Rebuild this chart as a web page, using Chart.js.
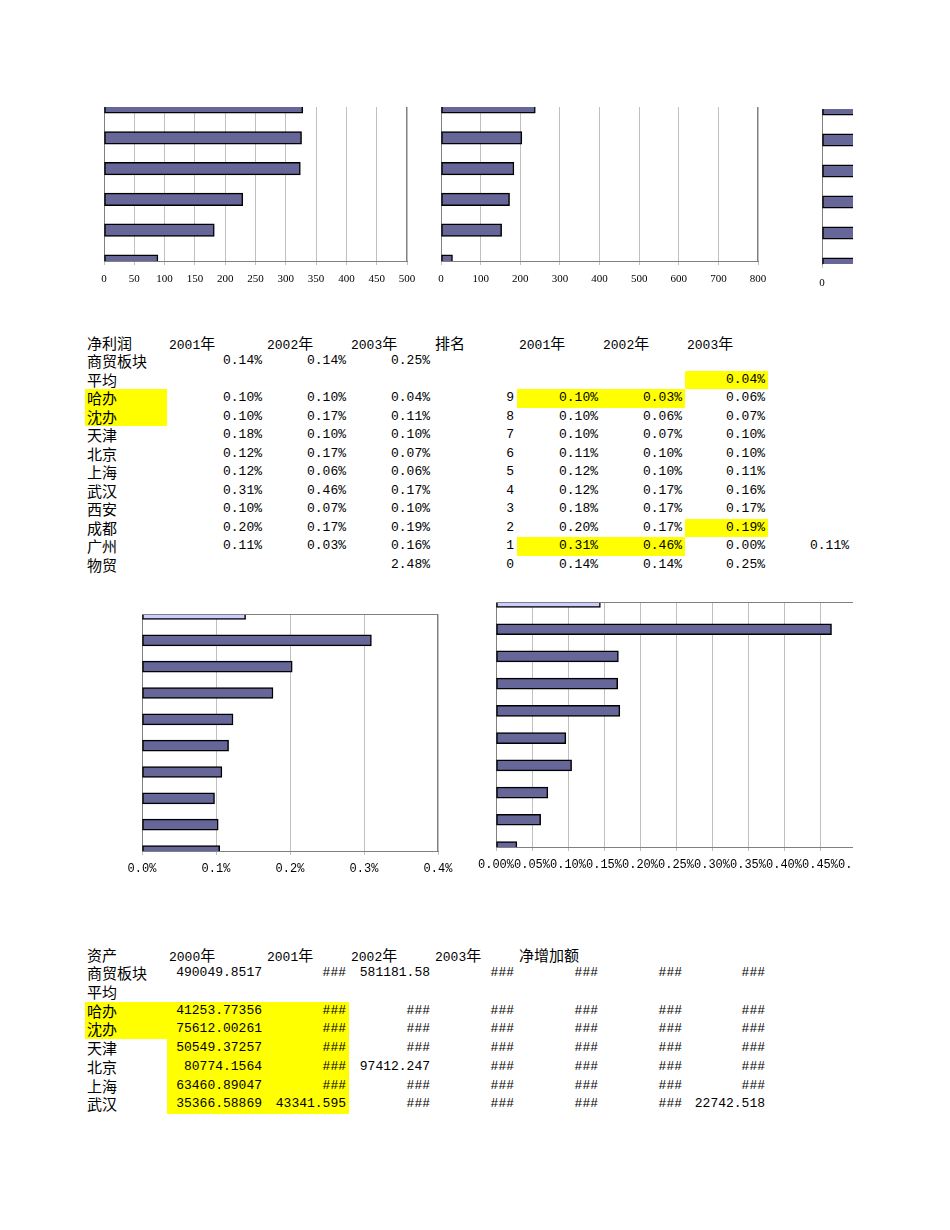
<!DOCTYPE html>
<html>
<head>
<meta charset="utf-8">
<script src="https://cdn.jsdelivr.net/npm/chart.js@4.4.1/dist/chart.umd.min.js"></script>
<style>
  body { margin: 0; background: #fff; }
  #page { position: relative; width: 950px; height: 1230px; overflow: hidden; background: #fff; }
  #print { position: absolute; left: 0; top: 0; width: 853px; height: 1230px; overflow: hidden; }
  .box { position: absolute; }
  .cell { position: absolute; white-space: nowrap; box-sizing: border-box; padding: 0 3px;
          font-family: "Liberation Mono", "Noto Sans CJK SC", monospace; font-size: 13px; color: #000; }
  .zh { font-family: "Noto Sans CJK SC", sans-serif; font-size: 15px; }
  .hl { position: absolute; background: #ffff00; }
</style>
</head>
<body>
<div id="page"><div id="print"></div></div>
<script>
// ---- chart data (top to bottom) ----
const topLabels = ['1', '2', '3', '4', '5', '6'];
const topLeftValues = [328, 326, 324, 229, 182, 89];
const topMidValues = [238, 204, 184, 173, 153, 29];
const topRightValues = [300, 280, 260, 240, 220, 120];

const rankLabels = ['0', '1', '2', '3', '4', '5', '6', '7', '8', '9'];
const rank2001 = [0.14, 0.31, 0.203, 0.177, 0.123, 0.117, 0.108, 0.098, 0.103, 0.105];
const rank2002 = [0.145, 0.466, 0.17, 0.169, 0.172, 0.097, 0.105, 0.072, 0.062, 0.029];

// ---- table data ----
const profitHead = ['净利润', '2001年', '2002年', '2003年', '排名', '2001年', '2002年', '2003年'];
const profitCities = ['商贸板块', '平均', '哈办', '沈办', '天津', '北京', '上海', '武汉', '西安', '成都', '广州', '物贸'];
const profit2001 = ['0.14%', '', '0.10%', '0.10%', '0.18%', '0.12%', '0.12%', '0.31%', '0.10%', '0.20%', '0.11%', ''];
const profit2002 = ['0.14%', '', '0.10%', '0.17%', '0.10%', '0.17%', '0.06%', '0.46%', '0.07%', '0.17%', '0.03%', ''];
const profit2003 = ['0.25%', '', '0.04%', '0.11%', '0.10%', '0.07%', '0.06%', '0.17%', '0.10%', '0.19%', '0.16%', '2.48%'];
const rankNo = ['', '', '9', '8', '7', '6', '5', '4', '3', '2', '1', '0'];
const rankCol2001 = ['', '', '0.10%', '0.10%', '0.10%', '0.11%', '0.12%', '0.12%', '0.18%', '0.20%', '0.31%', '0.14%'];
const rankCol2002 = ['', '', '0.03%', '0.06%', '0.07%', '0.10%', '0.10%', '0.17%', '0.17%', '0.17%', '0.46%', '0.14%'];
const rankCol2003 = ['', '0.04%', '0.06%', '0.07%', '0.10%', '0.10%', '0.11%', '0.16%', '0.17%', '0.19%', '0.00%', '0.25%'];
const rankExtra = ['', '', '', '', '', '', '', '', '', '', '0.11%', ''];

const assetHead = ['资产', '2000年', '2001年', '2002年', '2003年', '净增加额'];
const assetCities = ['商贸板块', '平均', '哈办', '沈办', '天津', '北京', '上海', '武汉'];
const asset2000 = ['490049.8517', '', '41253.77356', '75612.00261', '50549.37257', '80774.1564', '63460.89047', '35366.58869'];
const asset2001 = ['###', '', '###', '###', '###', '###', '###', '43341.595'];
const asset2002 = ['581181.58', '', '###', '###', '###', '97412.247', '###', '###'];
const asset2003 = ['###', '', '###', '###', '###', '###', '###', '###'];
const assetInc1 = ['###', '', '###', '###', '###', '###', '###', '###'];
const assetInc2 = ['###', '', '###', '###', '###', '###', '###', '###'];
const assetInc3 = ['###', '', '###', '###', '###', '###', '###', '22742.518'];

// ---- sheet layout ----
const COLS = [85, 167, 265, 349, 433, 517, 601, 685, 768, 852];
const print = document.getElementById('print');

function cjk(s) {
  return s.replace(/[\u3000-\u9fff\uff00-\uffef]+/g, m => '<span class="zh">' + m + '</span>');
}
function cell(c, top, h, text, align) {
  if (!text) return;
  const d = document.createElement('div');
  d.className = 'cell';
  d.style.left = COLS[c] + 'px';
  d.style.width = (COLS[c + 1] - COLS[c]) + 'px';
  d.style.top = top + 'px';
  d.style.height = h + 'px';
  d.style.lineHeight = h + 'px';
  d.style.textAlign = align || 'left';
  if (align !== 'right') d.style.paddingLeft = '2px';
  d.innerHTML = cjk(text);
  print.appendChild(d);
}
function mark(c0, c1, top, h, r0, r1) {
  const d = document.createElement('div');
  d.className = 'hl';
  d.style.left = COLS[c0] + 'px';
  d.style.width = (COLS[c1 + 1] - COLS[c0]) + 'px';
  d.style.top = (top + r0 * h) + 'px';
  d.style.height = ((r1 - r0 + 1) * h) + 'px';
  print.appendChild(d);
}

// profit table
const pTop = 333.5, pH = 18.54;
mark(0, 0, pTop, pH, 3, 4);
mark(5, 6, pTop, pH, 3, 3);
mark(7, 7, pTop, pH, 2, 2);
mark(7, 7, pTop, pH, 10, 10);
mark(5, 6, pTop, pH, 11, 11);
profitHead.forEach((t, i) => cell(i, pTop, pH, t, 'left'));
profitCities.forEach((name, i) => {
  const y = pTop + (i + 1) * pH;
  cell(0, y, pH, name, 'left');
  cell(1, y, pH, profit2001[i], 'right');
  cell(2, y, pH, profit2002[i], 'right');
  cell(3, y, pH, profit2003[i], 'right');
  cell(4, y, pH, rankNo[i], 'right');
  cell(5, y, pH, rankCol2001[i], 'right');
  cell(6, y, pH, rankCol2002[i], 'right');
  cell(7, y, pH, rankCol2003[i], 'right');
  cell(8, y, pH, rankExtra[i], 'right');
});

// asset table
const aTop = 945.5, aH = 18.72;
mark(0, 0, aTop, aH, 3, 4);
mark(1, 2, aTop, aH, 3, 8);
assetHead.forEach((t, i) => cell(i, aTop, aH, t, 'left'));
assetCities.forEach((name, i) => {
  const y = aTop + (i + 1) * aH;
  cell(0, y, aH, name, 'left');
  [asset2000, asset2001, asset2002, asset2003, assetInc1, assetInc2, assetInc3]
    .forEach((col, j) => cell(j + 1, y, aH, col[i], 'right'));
});

// ---- charts ----
const frame = {
  id: 'frame',
  afterDraw(chart, args, opts) {
    const { ctx, chartArea: a } = chart;
    ctx.save();
    ctx.strokeStyle = '#808080';
    ctx.lineWidth = 1;
    ctx.beginPath();
    (opts.sides || []).forEach(s => {
      if (s === 'top') {
        const y = Math.round(a.top) + 0.5;
        ctx.moveTo(a.left, y); ctx.lineTo(a.right, y);
      }
      if (s === 'right') {
        const x = Math.round(a.right) - 0.5;
        ctx.moveTo(x, a.top); ctx.lineTo(x, a.bottom);
      }
    });
    ctx.stroke();
    ctx.restore();
  }
};

function hbar(o) {
  const padL = 40, padR = 30, axisH = 40;
  const box = document.createElement('div');
  box.className = 'box';
  box.style.left = (o.area.l - padL) + 'px';
  box.style.top = o.area.t + 'px';
  box.style.width = (o.area.r - o.area.l + padL + padR) + 'px';
  box.style.height = (o.area.b - o.area.t + axisH) + 'px';
  const cv = document.createElement('canvas');
  box.appendChild(cv);
  print.appendChild(box);

  new Chart(cv, {
    type: 'bar',
    data: {
      labels: o.labels,
      datasets: [{
        data: o.values,
        backgroundColor: o.values.map((v, i) => (o.lightFirst && i === 0) ? '#ccccff' : '#666699'),
        borderColor: '#000000',
        borderWidth: 1.5,
        borderSkipped: false,
        barThickness: o.bar,
        clip: 0
      }]
    },
    options: {
      indexAxis: 'y',
      responsive: true,
      maintainAspectRatio: false,
      animation: false,
      layout: { padding: { left: padL, right: padR, top: 0, bottom: 0 } },
      plugins: {
        legend: { display: false },
        tooltip: { enabled: false },
        frame: { sides: o.sides }
      },
      scales: {
        x: {
          type: 'linear',
          min: 0,
          max: o.max,
          afterFit: s => { s.height = axisH; },
          ticks: {
            stepSize: o.step,
            autoSkip: false,
            maxRotation: 0,
            padding: o.tickPad,
            color: '#000',
            font: o.font,
            callback: o.fmt
          },
          grid: { color: '#c0c0c0', tickColor: '#c0c0c0', tickLength: 4, drawTicks: true },
          border: { display: o.bottomLine !== false, color: '#808080' }
        },
        y: {
          offset: false,
          afterFit: s => { s.width = 0; },
          ticks: { display: false },
          grid: { display: false, drawTicks: false },
          border: { display: true, color: '#808080' }
        }
      }
    },
    plugins: [frame]
  });
}

const serif = { family: 'Liberation Serif', size: 11 };
const mono = { family: 'Liberation Mono', size: 12 };

hbar({ area: { l: 104, r: 407, t: 107, b: 261 }, labels: topLabels, values: topLeftValues,
       max: 500, step: 50, bar: 12.5, font: serif, tickPad: 8, sides: ['right'] });
hbar({ area: { l: 441, r: 758, t: 107, b: 261 }, labels: topLabels, values: topMidValues,
       max: 800, step: 100, bar: 12.5, font: serif, tickPad: 8, sides: ['right'] });
hbar({ area: { l: 822, r: 1139, t: 109, b: 264 }, labels: topLabels, values: topRightValues,
       max: 800, step: 100, bar: 12.5, font: serif, tickPad: 9, sides: [], bottomLine: false });
hbar({ area: { l: 142, r: 438, t: 614, b: 851 }, labels: rankLabels, values: rank2001, lightFirst: true,
       max: 0.4, step: 0.1, bar: 11, font: mono, tickPad: 7, sides: ['top', 'right'],
       fmt: v => v.toFixed(1) + '%' });
hbar({ area: { l: 496, r: 856, t: 602, b: 847 }, labels: rankLabels, values: rank2002, lightFirst: true,
       max: 0.5, step: 0.05, bar: 11, font: mono, tickPad: 7, sides: ['top'],
       fmt: v => v.toFixed(2) + '%' });
</script>
</body>
</html>
